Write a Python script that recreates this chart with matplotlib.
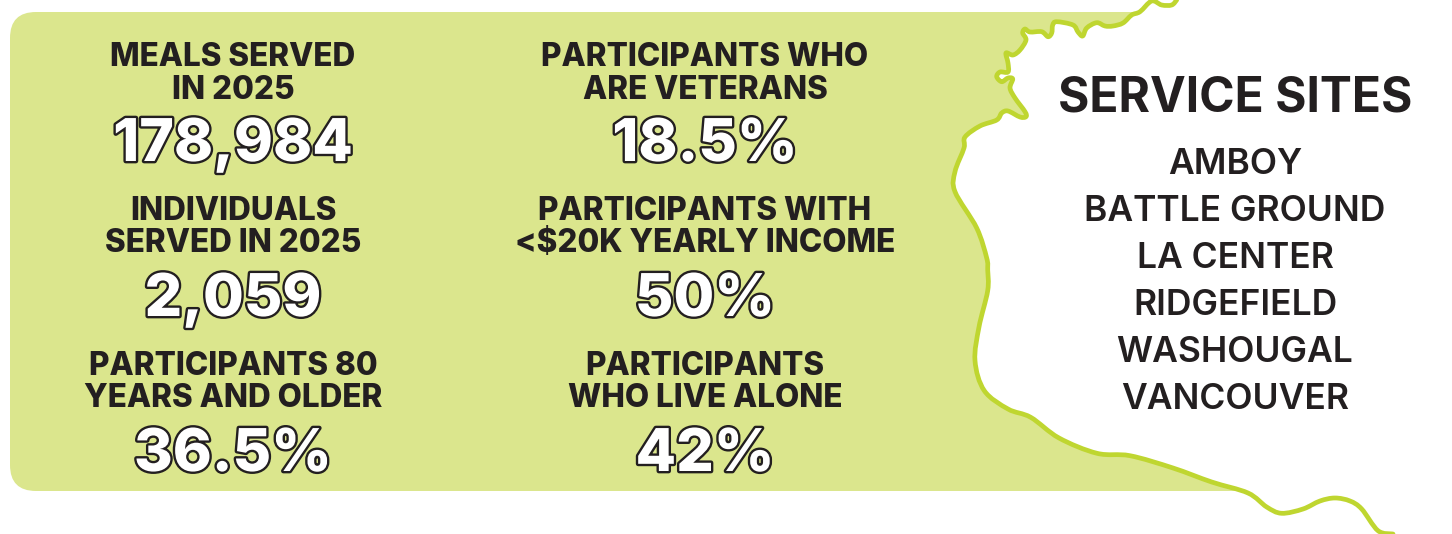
import matplotlib
matplotlib.use("Agg")
import matplotlib.pyplot as plt
import matplotlib.patheffects as pe
from matplotlib.patches import FancyBboxPatch, PathPatch
from matplotlib.path import Path

W, H = 1452, 534
INK = "#231f20"
PANEL = "#dbe68d"
COAST = "#bfd630"

# Statistic blocks: headline lines, headline values
left_labels = [["MEALS SERVED", "IN 2025"], ["INDIVIDUALS", "SERVED IN 2025"], ["PARTICIPANTS 80", "YEARS AND OLDER"]]
left_values = ["178,984", "2,059", "36.5%"]
right_labels = [["PARTICIPANTS WHO", "ARE VETERANS"], ["PARTICIPANTS WITH", "<$20K YEARLY INCOME"], ["PARTICIPANTS", "WHO LIVE ALONE"]]
right_values = ["18.5%", "50%", "42%"]
sites_title = "SERVICE SITES"
sites = ["AMBOY", "BATTLE GROUND", "LA CENTER", "RIDGEFIELD", "WASHOUGAL", "VANCOUVER"]

coast_x = [1176.7,1171.7,1161.7,1151.7,1140,1131.7,1123,1113,1105,1096.7,1086.7,1082.7,1078,1073,1056.7,1052.7,1051.7,1048,1041.7,1030,1025,1022.7,1026,1020,1013,1006,1008,1008,1000,996.7,1001.7,1008,1012.7,1010,1015,1025,1026,1020,1008,1001.7,996.7,980,965,964,955,955,976.7,986.7,987.7,987.7,979,975,984.3,1008,1030.7,1059,1097,1130,1173,1211.7,1248,1266.7,1281.7,1303,1320,1335,1350,1361.7,1378,1393]
coast_y = [0,5,5,1,11.7,15,23,26,26,22.7,28,36,32,25,21.7,25,33,36.7,31.7,32,29,33,40,50,55,53,63,72,72,76.7,81.7,78,79,88,98,111.7,116.7,117,111,113,120,126,137,148,171.7,191.7,228,258,270,290.7,327,360.7,390.7,409,417.3,438,453.3,455.7,468,482,493,507,513.3,509,501,498,501,509,530.7,534]

LABEL_FONT = {"family": "Inter", "weight": 800, "size": 22.7}
VALUE_FONT = {"family": "Inter", "weight": 800, "size": 42.5}
TITLE_FONT = {"family": "Inter", "weight": "bold", "size": 34.5}
SITE_FONT = {"family": "Inter", "weight": 600, "size": 25.5}

fig = plt.figure(figsize=(W / 100, H / 100), dpi=100, facecolor="white")
ax = fig.add_axes([0, 0, 1, 1])
ax.set_xlim(0, W)
ax.set_ylim(H, 0)
ax.axis("off")


def smooth_path(pts):
    """Cubic segments that pass through every traced point."""
    verts = [pts[0]]
    codes = [Path.MOVETO]
    n = len(pts)
    for i in range(n - 1):
        p0 = pts[max(i - 1, 0)]
        p1 = pts[i]
        p2 = pts[i + 1]
        p3 = pts[min(i + 2, n - 1)]
        c1 = (p1[0] + (p2[0] - p0[0]) / 6, p1[1] + (p2[1] - p0[1]) / 6)
        c2 = (p2[0] - (p3[0] - p1[0]) / 6, p2[1] - (p3[1] - p1[1]) / 6)
        verts += [c1, c2, p2]
        codes += [Path.CURVE4] * 3
    return verts, codes


pts = list(zip(coast_x, coast_y))
v, c = smooth_path(pts)

# Panel: everything west of the coast, clipped to a rounded rectangle
fill = PathPatch(
    Path(v + [(0, H), (0, 0), (pts[0][0], 0)], c + [Path.LINETO, Path.LINETO, Path.LINETO]),
    facecolor=PANEL, edgecolor="none", zorder=1,
)
ax.add_patch(fill)
clip = FancyBboxPatch((10, 12), 1400, 479, boxstyle="round,pad=0,rounding_size=26",
                      transform=ax.transData, facecolor="none", edgecolor="none")
ax.add_patch(clip)
fill.set_clip_path(clip)

ax.add_patch(PathPatch(Path(v, c), facecolor="none", edgecolor=COAST, linewidth=3.4,
                       capstyle="round", joinstyle="round", zorder=2))

label_base = [(66, 99), (220, 252), (375, 407)]
value_base = [161, 316, 471]


def block(cx, labels, values):
    for (l1, l2), (b1, b2), val, vb in zip(labels, label_base, values, value_base):
        ax.text(cx, b1, l1, ha="center", va="baseline", color=INK, zorder=3, **LABEL_FONT)
        ax.text(cx, b2, l2, ha="center", va="baseline", color=INK, zorder=3, **LABEL_FONT)
        t = ax.text(cx, vb, val, ha="center", va="baseline", color="white", zorder=3, **VALUE_FONT)
        t.set_path_effects([pe.withStroke(linewidth=3.4, foreground=INK)])


block(233, left_labels, left_values)
block(705, right_labels, right_values)

ax.text(1235, 111, sites_title, ha="center", va="baseline", color=INK, zorder=3, **TITLE_FONT)
for s, b in zip(sites, [174, 221, 268, 315, 362, 409]):
    ax.text(1235, b, s, ha="center", va="baseline", color=INK, zorder=3, **SITE_FONT)

fig.savefig("out.png", dpi=100, facecolor="white")
